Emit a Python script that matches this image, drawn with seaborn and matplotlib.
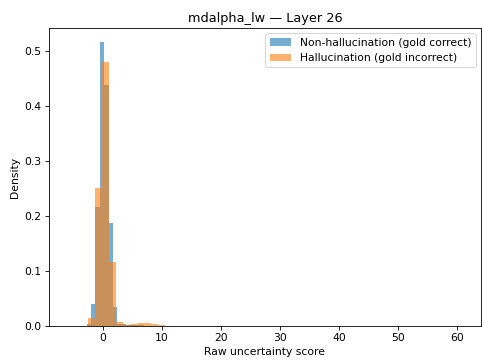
import numpy as np
import pandas as pd
import matplotlib
matplotlib.use("Agg")
import matplotlib.pyplot as plt
import seaborn as sns

# Histogram densities per bin (left edge of first bin, bin width, heights)
nonhal_start = -2.76
nonhal_width = 0.745
nonhal_density = [0.004, 0.040, 0.217, 0.516, 0.438, 0.188, 0.035,
                  0.004, 0.003, 0.002, 0.002, 0.001, 0.001]

hal_start = -2.50
hal_width = 1.19
hal_density = [0.015, 0.250, 0.480, 0.117, 0.007, 0.002, 0.004,
               0.005, 0.005, 0.003, 0.001]

labels = ["Non-hallucination (gold correct)", "Hallucination (gold incorrect)"]
title = "mdalpha_lw \u2014 Layer 26"
x_range = (-9.15, 64.07)

plt.rcParams["font.size"] = 10.3


def binned_frame(start, width, heights):
    edges = start + width * np.arange(len(heights) + 1)
    centers = (edges[:-1] + edges[1:]) / 2
    return edges.tolist(), pd.DataFrame({"score": centers, "density": heights})


fig = plt.figure(figsize=(482 / 75, 363 / 75), dpi=75)
ax = fig.add_axes([49 / 482, 1 - 326 / 363, 432 / 482, 298 / 363])

series = [
    (nonhal_start, nonhal_width, nonhal_density, "C0", labels[0]),
    (hal_start, hal_width, hal_density, "C1", labels[1]),
]
for start, width, heights, color, label in series:
    edges, df = binned_frame(start, width, heights)
    sns.histplot(data=df, x="score", weights="density", bins=edges,
                 stat="count", color=color, alpha=0.6, linewidth=0,
                 edgecolor="none", label=label, ax=ax)

ax.set_xlim(*x_range)
ax.set_title(title)
ax.set_xlabel("Raw uncertainty score")
ax.set_ylabel("Density")
ax.legend(loc="upper right")

fig.savefig("out.png", dpi=75)
